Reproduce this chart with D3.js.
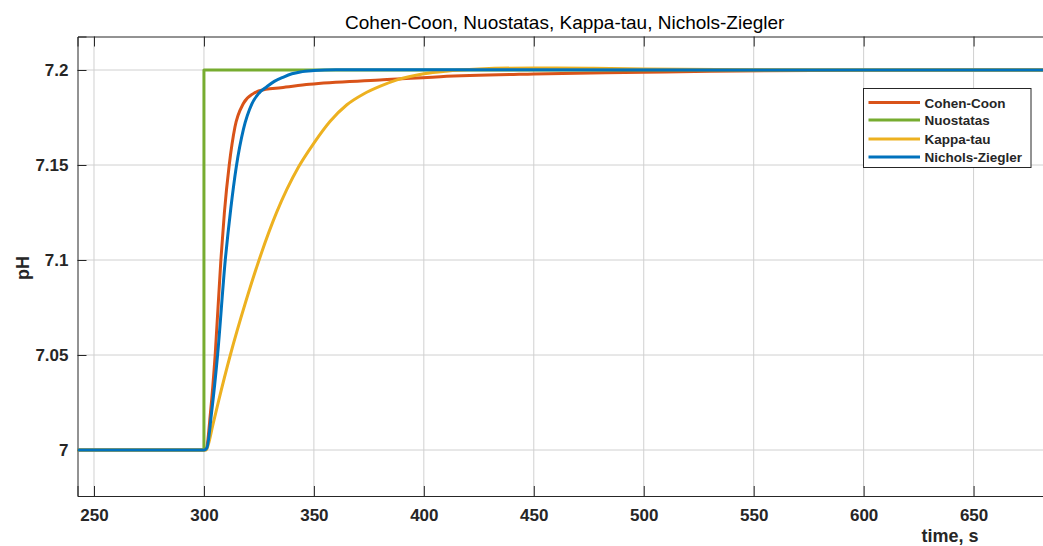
<!DOCTYPE html>
<html>
<head>
<meta charset="utf-8">
<script src="https://cdn.jsdelivr.net/npm/d3@7"></script>
<style>
  html, body { margin: 0; padding: 0; background: #fff; overflow: hidden; }
  svg { display: block; font-family: "Liberation Sans", Arial, Helvetica, sans-serif; }
</style>
</head>
<body>
<svg id="chart" width="1043" height="546"></svg>
<script>
// Step responses of pH loop, tuned with four PID tuning rules
const xTicks = [250, 300, 350, 400, 450, 500, 550, 600, 650];
const yTicks = [7, 7.05, 7.1, 7.15, 7.2];
const yTickLabels = ["7", "7.05", "7.1", "7.15", "7.2"];

// [time s, pH]
const cohenCoon = [
  [242.5, 7.0], [300, 7.0], [301, 7.0005], [303, 7.02], [305.1, 7.05],
  [307.7, 7.1], [309.3, 7.125], [311.5, 7.15], [314.1, 7.170], [318, 7.1825],
  [322.6, 7.1877], [328, 7.1898], [335, 7.1907], [348, 7.1925], [380, 7.1947],
  [407.5, 7.1965], [450, 7.1979], [500, 7.1988], [530, 7.1994], [600, 7.1999],
  [690, 7.2]
];
const nuostatas = [
  [242.5, 7.0], [300, 7.0], [300, 7.2], [690, 7.2]
];
const kappaTau = [
  [242.5, 7.0], [300, 7.0], [301, 7.0], [302, 7.003], [304, 7.013],
  [306.7, 7.026], [312, 7.05], [319, 7.078], [326, 7.1032], [333, 7.1249],
  [343, 7.1489], [350, 7.1615], [357.4, 7.173], [365, 7.1817], [372.6, 7.1874],
  [380.2, 7.1915], [387.8, 7.1948], [400, 7.198], [410, 7.1994], [425, 7.2005],
  [450, 7.2011], [475, 7.2009], [500, 7.2005], [550, 7.2001], [600, 7.2], [690, 7.2]
];
const nicholsZiegler = [
  [242.5, 7.0], [300, 7.0], [301.3, 7.001], [303.5, 7.02], [306.2, 7.05],
  [309.7, 7.1], [312.2, 7.127], [314.7, 7.149], [318, 7.169], [321.8, 7.1822],
  [325, 7.1878], [328.6, 7.1912], [332, 7.194], [336.2, 7.1963], [340, 7.198],
  [343.8, 7.199], [350, 7.1997], [360, 7.2001], [400, 7.2001], [690, 7.2]
];

const seriesNames = ["Cohen-Coon", "Nuostatas", "Kappa-tau", "Nichols-Ziegler"];
const seriesColors = ["#D95319", "#77AC30", "#EDB120", "#0072BD"];
const seriesData = [cohenCoon, nuostatas, kappaTau, nicholsZiegler];

const svg = d3.select("#chart");
const plotLeft = 77.5, plotRight = 1052, plotTop = 36.5, plotBottom = 496;

const x = d3.scaleLinear()
  .domain([242.5, 242.5 + (plotRight - plotLeft) / 2.199])
  .range([plotLeft, plotRight]);
const y = d3.scaleLinear()
  .domain([7 - (plotBottom - 450) / 1900, 7 + (450 - plotTop) / 1900])
  .range([plotBottom, plotTop]);

const textColor = "#262626";

// grid
const grid = svg.append("g");
grid.selectAll("line.gx").data(xTicks).join("line")
  .attr("class", "gx")
  .attr("x1", d => x(d)).attr("x2", d => x(d))
  .attr("y1", plotTop).attr("y2", plotBottom)
  .attr("stroke", "#d0d0d0").attr("stroke-width", 1);
grid.selectAll("line.gy").data(yTicks).join("line")
  .attr("class", "gy")
  .attr("x1", plotLeft).attr("x2", plotRight)
  .attr("y1", d => y(d)).attr("y2", d => y(d))
  .attr("stroke", "#d0d0d0").attr("stroke-width", 1);

// axes
const xAxisB = d3.axisBottom(x).tickValues(xTicks).tickSize(-10).tickPadding(13).tickFormat(d3.format("d"));
const gxb = svg.append("g").attr("transform", `translate(0,${plotBottom})`).call(xAxisB);
const xAxisT = d3.axisTop(x).tickValues(xTicks).tickSize(-10).tickFormat("");
const gxt = svg.append("g").attr("transform", `translate(0,${plotTop})`).call(xAxisT);
const yAxisL = d3.axisLeft(y).tickValues(yTicks).tickSize(-9).tickPadding(9)
  .tickFormat((d, i) => yTickLabels[i]);
const gyl = svg.append("g").attr("transform", `translate(${plotLeft},0)`).call(yAxisL);

[gxb, gxt, gyl].forEach(g => {
  g.select(".domain").attr("stroke", textColor).attr("stroke-width", 1);
  g.selectAll(".tick line").attr("stroke", textColor).attr("stroke-width", 1);
  g.selectAll(".tick text")
    .attr("fill", textColor)
    .style("font-size", "17px")
    .style("font-weight", "bold")
    .style("font-family", "'Liberation Sans', Arial, sans-serif");
});

// response curves
const line = d3.line().x(d => x(d[0])).y(d => y(d[1]));
svg.append("clipPath").attr("id", "plot-clip")
  .append("rect")
  .attr("x", plotLeft).attr("y", plotTop)
  .attr("width", plotRight - plotLeft).attr("height", plotBottom - plotTop);
const plot = svg.append("g").attr("clip-path", "url(#plot-clip)");
seriesData.forEach((data, i) => {
  const curve = i === 1 ? d3.curveLinear : d3.curveMonotoneX;
  plot.append("path")
    .datum(data)
    .attr("fill", "none")
    .attr("stroke", seriesColors[i])
    .attr("stroke-width", 3)
    .attr("stroke-linejoin", "round")
    .attr("d", line.curve(curve));
});

// title and axis labels
svg.append("text")
  .attr("x", (plotLeft + plotRight) / 2).attr("y", 29)
  .attr("text-anchor", "middle")
  .attr("fill", "#000")
  .style("font-size", "19px")
  .text("Cohen-Coon, Nuostatas, Kappa-tau, Nichols-Ziegler");

svg.append("text")
  .attr("x", 950).attr("y", 542)
  .attr("text-anchor", "middle")
  .attr("fill", textColor)
  .style("font-size", "18px").style("font-weight", "bold")
  .text("time, s");

svg.append("text")
  .attr("transform", "translate(29,268) rotate(-90)")
  .attr("text-anchor", "middle")
  .attr("fill", textColor)
  .style("font-size", "18px").style("font-weight", "bold")
  .text("pH");

// legend
const lg = svg.append("g").attr("transform", "translate(863.5,88.5)");
lg.append("rect").attr("width", 167.5).attr("height", 79)
  .attr("fill", "#fff").attr("stroke", textColor).attr("stroke-width", 1);
const rowY = [14, 31.5, 50.5, 68.5];
seriesNames.forEach((name, i) => {
  lg.append("line")
    .attr("x1", 5).attr("x2", 56.5)
    .attr("y1", rowY[i]).attr("y2", rowY[i])
    .attr("stroke", seriesColors[i]).attr("stroke-width", 3);
  lg.append("text")
    .attr("x", 61).attr("y", rowY[i] + 5)
    .attr("fill", textColor)
    .style("font-size", "13.5px").style("font-weight", "bold")
    .text(name);
});
</script>
</body>
</html>
